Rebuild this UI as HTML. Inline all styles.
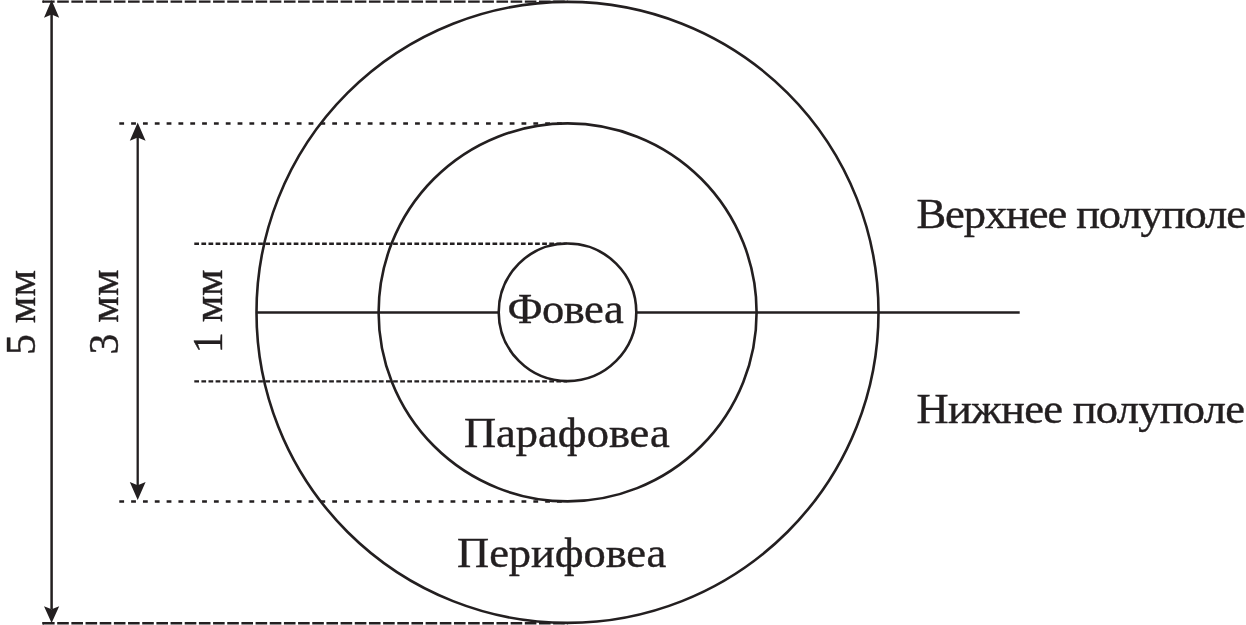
<!DOCTYPE html>
<html>
<head>
<meta charset="utf-8">
<style>
html,body{margin:0;padding:0;background:#fff;width:1246px;height:625px;overflow:hidden;}
svg{display:block;will-change:transform;}
text{font-family:"Liberation Serif",serif;fill:#231f20;stroke:#231f20;stroke-width:0.4px;}
</style>
</head>
<body>
<svg width="1246" height="625" viewBox="0 0 1246 625">
<rect width="1246" height="625" fill="#fff"/>
<g stroke="#231f20" fill="none">
  <!-- dashed guide lines -->
  <line x1="42.2" y1="1.6" x2="44" y2="1.6" stroke-width="2.2"/>
  <line x1="43.03" y1="1.6" x2="568" y2="1.6" stroke-width="2.2" stroke-dasharray="11.6 2.57"/>
  <line x1="42.2" y1="623.3" x2="44" y2="623.3" stroke-width="2.4"/>
  <line x1="43.03" y1="623.3" x2="568" y2="623.3" stroke-width="2.4" stroke-dasharray="11.6 2.57"/>
  <line x1="119.3" y1="123.5" x2="562" y2="123.5" stroke-width="2.4" stroke-dasharray="4.8 7.03"/>
  <line x1="119.3" y1="501.5" x2="562" y2="501.5" stroke-width="2.4" stroke-dasharray="4.8 7.03"/>
  <line x1="194.3" y1="243.8" x2="567" y2="243.8" stroke-width="2.4" stroke-dasharray="4.7 2.4"/>
  <line x1="194.3" y1="381.4" x2="567" y2="381.4" stroke-width="2.4" stroke-dasharray="4.7 2.4"/>
  <!-- circles -->
  <ellipse cx="567.5" cy="312.4" rx="311" ry="310.5" stroke-width="2.6"/>
  <circle cx="567.6" cy="312.4" r="189" stroke-width="2.6"/>
  <!-- horizontal axis -->
  <line x1="256.5" y1="312.5" x2="1019.7" y2="312.5" stroke-width="2.6"/>
  <circle cx="567.5" cy="312.3" r="68.8" stroke-width="2.6" fill="#fff"/>
  <!-- vertical dimension lines -->
  <line x1="51.6" y1="14" x2="51.6" y2="609" stroke-width="2.5"/>
  <line x1="137.7" y1="137" x2="137.7" y2="486" stroke-width="2.3"/>
</g>
<g fill="#231f20" stroke="none">
  <path d="M51.6 0 L59.2 17.7 L51.6 14.4 L44 17.7 Z"/>
  <path d="M51.6 623 L59.2 606.2 L51.6 609.3 L44 606.2 Z"/>
  <path d="M137.7 122.5 L145.6 140.7 L137.7 137.4 L129.8 140.7 Z"/>
  <path d="M137.7 500 L145.6 482 L137.7 485.3 L129.8 482 Z"/>
</g>

<text transform="translate(916.50 227.80) scale(1.06 1)" font-size="42" letter-spacing="-1.032">Верхнее полуполе</text>
<text transform="translate(916.50 422.80) scale(1.06 1)" font-size="42" letter-spacing="-0.674">Нижнее полуполе</text>
<text transform="translate(464.00 446.70) scale(1.06 1)" font-size="42" letter-spacing="-0.017">Парафовеа</text>
<text transform="translate(457.10 567.00) scale(1.06 1)" font-size="42" letter-spacing="-0.082">Перифовеа</text>
<text transform="translate(507.40 322.50) scale(1.06 1)" font-size="42" letter-spacing="-0.459">Фовеа</text>
<text transform="translate(35.40 354.90) rotate(-90) scale(1.0 1)" font-size="42" letter-spacing="0.100">5 мм</text>
<text transform="translate(117.60 354.40) rotate(-90) scale(1.0 1)" font-size="42" letter-spacing="0.100">3 мм</text>
<text transform="translate(221.90 353.30) rotate(-90) scale(1.0 1)" font-size="42" letter-spacing="-0.233">1 мм</text>
</svg>
</body>
</html>
